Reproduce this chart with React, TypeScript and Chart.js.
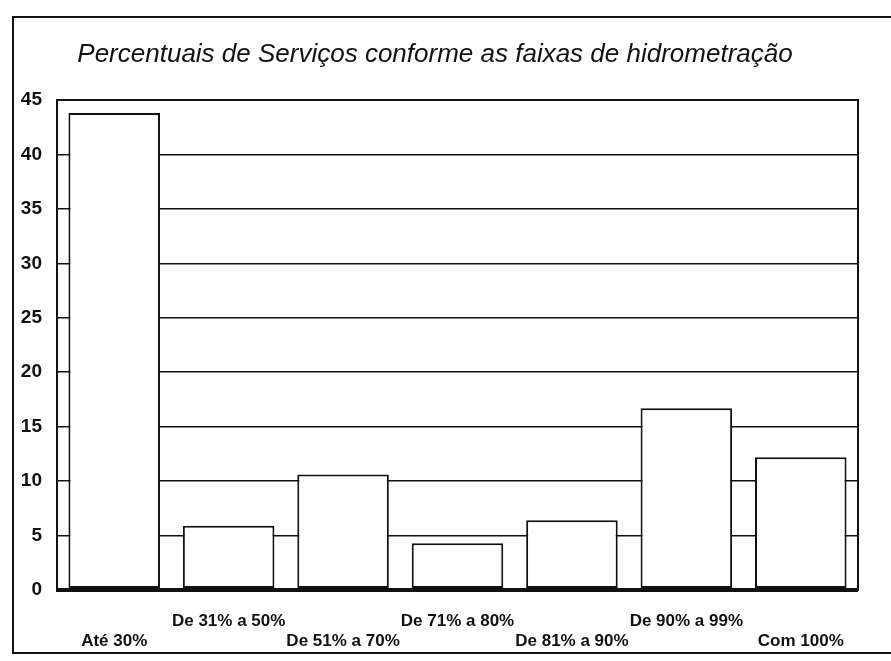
import React, { useEffect, useRef } from "react";
import { Chart, registerables } from "chart.js";

Chart.register(...registerables);

const TITLE = "Percentuais de Serviços conforme as faixas de hidrometração";
const categories = [
  "Até 30%",
  "De 31% a 50%",
  "De 51% a 70%",
  "De 71% a 80%",
  "De 81% a 90%",
  "De 90% a 99%",
  "Com 100%",
];
const values = [43.8, 5.9, 10.6, 4.3, 6.4, 16.7, 12.2];
const yMin = 0;
const yMax = 45;
const yStep = 5;

const framePlugin = {
  id: "frame",
  afterDatasetsDraw(chart: any) {
    const { ctx, chartArea } = chart;
    ctx.save();
    ctx.strokeStyle = "#111";
    ctx.lineWidth = 2;
    ctx.strokeRect(chartArea.left, chartArea.top, chartArea.right - chartArea.left, chartArea.bottom - chartArea.top);
    ctx.restore();
  },
};

export default function App() {
  const ref = useRef<HTMLCanvasElement | null>(null);

  useEffect(() => {
    if (!ref.current) return;
    const chart = new Chart(ref.current, {
      type: "bar",
      data: {
        labels: categories,
        datasets: [
          {
            data: values,
            backgroundColor: "#ffffff",
            borderColor: "#111111",
            borderWidth: 2,
            borderSkipped: false,
            barPercentage: 0.8,
            categoryPercentage: 1,
          },
        ],
      },
      options: {
        responsive: false,
        animation: false,
        layout: { padding: { left: 12, right: 33, top: 0, bottom: 0 } },
        plugins: {
          legend: { display: false },
          tooltip: { enabled: false },
          title: {
            display: true,
            text: TITLE,
            color: "#111",
            font: {
              family: "'Liberation Sans Narrow', 'Arial Narrow', 'Liberation Sans', Arial, sans-serif",
              size: 26,
              style: "italic",
              weight: "normal",
              lineHeight: 1.2,
            },
            padding: { top: 39, bottom: 29.8 },
          },
        },
        scales: {
          x: {
            grid: { display: false },
            border: { display: false },
            ticks: {
              color: "#111",
              maxRotation: 0,
              minRotation: 0,
              autoSkip: false,
              padding: 13,
              font: {
                family: "'Liberation Sans', Arial, sans-serif",
                size: 17,
                weight: "bold",
                lineHeight: 20 / 17,
              },
              callback: (_v: any, i: number) =>
                i % 2 === 0 ? ["", categories[i]] : categories[i],
            },
            afterFit: (scale: any) => {
              scale.height = 71;
            },
          },
          y: {
            min: yMin,
            max: yMax,
            ticks: {
              stepSize: yStep,
              color: "#111",
              padding: 15,
              font: {
                family: "'Liberation Sans', Arial, sans-serif",
                size: 19,
                weight: "bold",
              },
            },
            grid: {
              color: "#111",
              lineWidth: (c: any) => (c.tick && c.tick.value === 0 ? 4 : 1.6),
              drawTicks: false,
            },
            border: { display: true, color: "#111", width: 2 },
            afterFit: (scale: any) => {
              scale.width = 45;
            },
          },
        },
      },
      plugins: [framePlugin],
    });
    return () => chart.destroy();
  }, []);

  return (
    <div style={{ position: "absolute", left: 0, top: 0, width: 891, height: 661, background: "#fff", overflow: "hidden" }}>
      <div
        style={{
          position: "absolute",
          left: 12,
          top: 16,
          width: 900,
          height: 638,
          border: "2px solid #111",
          boxSizing: "border-box",
        }}
      />
      <canvas ref={ref} width={891} height={661} style={{ position: "absolute", left: 0, top: 0 }} />
    </div>
  );
}
